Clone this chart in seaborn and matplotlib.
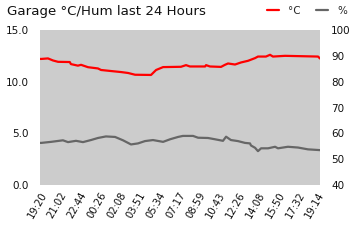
import matplotlib
matplotlib.use("Agg")
import matplotlib.pyplot as plt
import seaborn as sns
import pandas as pd
from matplotlib.lines import Line2D

# minutes since 19:20
temp_min = [0, 7, 41, 67, 93, 153, 159, 195, 211, 247, 298, 314, 365, 417, 453, 489,
            571, 597, 633, 725, 751, 771, 849, 854, 874, 931, 951, 967, 1003, 1034,
            1070, 1106, 1121, 1162, 1183, 1198, 1260, 1430, 1440]
temp_c = [12.2, 12.2, 12.25, 12.05, 11.92, 11.9, 11.7, 11.55, 11.63, 11.4, 11.28, 11.13,
          11.03, 10.93, 10.84, 10.67, 10.65, 11.13, 11.41, 11.44, 11.6, 11.47, 11.47,
          11.6, 11.47, 11.43, 11.63, 11.76, 11.66, 11.86, 12.02, 12.28, 12.43, 12.43,
          12.6, 12.43, 12.5, 12.43, 12.24]

hum_min = [0, 7, 57, 118, 144, 185, 221, 262, 298, 339, 386, 427, 468, 504, 540, 581,
           633, 669, 710, 735, 787, 813, 864, 900, 941, 957, 982, 1018, 1054, 1080,
           1085, 1106, 1121, 1137, 1173, 1209, 1224, 1275, 1327, 1378, 1440]
hum_pct = [56.3, 56.3, 56.7, 57.3, 56.6, 57.1, 56.6, 57.4, 58.2, 58.8, 58.6, 57.3, 55.7,
           56.1, 57.0, 57.4, 56.7, 57.7, 58.6, 59.0, 59.0, 58.3, 58.2, 57.7, 57.1, 58.7,
           57.4, 57.0, 56.3, 56.1, 55.3, 54.4, 53.1, 54.2, 54.2, 54.8, 54.2, 54.8, 54.5,
           53.8, 53.5]

tick_min = [0, 102, 204, 306, 408, 510, 612, 714, 816, 918, 1020, 1122, 1224, 1326, 1428]
tick_labels = ["19:20", "21:02", "22:44", "00:26", "02:08", "03:51", "05:34", "07:17",
               "08:59", "10:43", "12:26", "14:08", "15:50", "17:32", "19:14"]

temp_df = pd.DataFrame({"t": temp_min, "v": temp_c})
hum_df = pd.DataFrame({"t": hum_min, "v": hum_pct})

sns.set_style("white")
plt.rcParams["font.family"] = ["DejaVu Sans"]

fig = plt.figure(figsize=(3.6, 2.4), dpi=100)
ax = fig.add_axes([40 / 360, 1 - 185 / 240, 280 / 360, 155 / 240])
ax.set_facecolor("#cccccc")
ax2 = ax.twinx()
ax2.patch.set_visible(False)

red = "#ff0000"
gray = "#666666"
sns.lineplot(data=temp_df, x="t", y="v", ax=ax, color=red, linewidth=1.6)
sns.lineplot(data=hum_df, x="t", y="v", ax=ax2, color=gray, linewidth=1.6)

ax.set_xlim(0, 1440)
ax.set_ylim(0, 15)
ax.set_yticks([0, 5, 10, 15])
ax.set_yticklabels([f"{v:.1f}" for v in [0, 5, 10, 15]])
ax2.set_ylim(40, 100)
ax2.set_yticks(range(40, 101, 10))
ax.set_xticks(tick_min)
ax.set_xticklabels(tick_labels, rotation=60, ha="right", rotation_mode="anchor")

for a in (ax, ax2):
    a.set_xlabel("")
    a.set_ylabel("")
    for s in a.spines.values():
        s.set_visible(False)
    a.tick_params(axis="both", length=0, labelsize=7.5, colors="#111111", pad=3)
ax.tick_params(axis="y", pad=8)
ax2.tick_params(axis="y", pad=8)
ax.tick_params(axis="x", pad=4, labelsize=7.2)

fig.text(7 / 360, 1 - 11 / 240, "Garage °C/Hum last 24 Hours", fontsize=9.6,
         va="center", ha="left", color="#111111")

handles = [Line2D([], [], color=red, linewidth=1.6), Line2D([], [], color=gray, linewidth=1.6)]
fig.legend(handles, ["°C", "%"], loc="center right", bbox_to_anchor=(347 / 360, 1 - 11 / 240),
           ncol=2, frameon=False, fontsize=7.5, handlelength=1.1, handletextpad=0.9,
           columnspacing=1.5, borderaxespad=0, borderpad=0)

fig.savefig("out.png", dpi=100)
